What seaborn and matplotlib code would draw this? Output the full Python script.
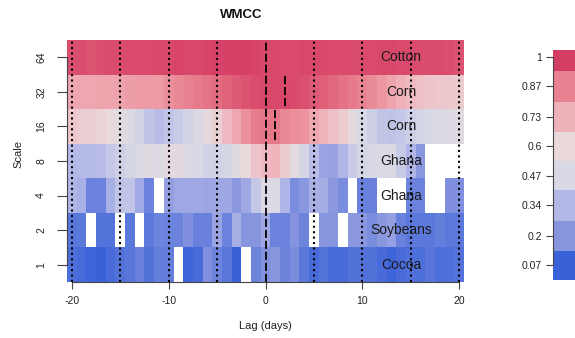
import numpy as np
import pandas as pd
import matplotlib
matplotlib.use("Agg")
import matplotlib.pyplot as plt
import seaborn as sns
from matplotlib.colors import LinearSegmentedColormap, ListedColormap, BoundaryNorm

sns.set_theme(style="white")
plt.rcParams["font.family"] = ["Liberation Sans", "DejaVu Sans"]

nan = np.nan

# lags in days, wavelet scales (top to bottom) and the pair leading at each scale
lags = list(range(-20, 21))
scales = [64, 32, 16, 8, 4, 2, 1]
leaders = ["Cotton", "Corn", "Corn", "Ghana", "Ghana", "Soybeans", "Cocoa"]

# wavelet multiple cross-correlation, one list per scale (lags -20 ... 20)
wmcc_64 = [0.965, 0.965, 0.96, 0.965, 0.97, 0.97, 0.975, 0.975, 0.975, 0.98,
           0.98, 0.985, 0.98, 0.98, 0.985, 0.99, 0.99, 0.995, 0.99, 0.985,
           0.98, 0.98, 0.975, 0.975, 0.98, 0.98, 0.98, 0.975, 0.975, 0.97,
           0.975, 0.975, 0.98, 0.98, 0.975, 0.975, 0.97, 0.97, 0.97, 0.965, 0.96]
wmcc_32 = [0.765, 0.76, 0.765, 0.77, 0.77, 0.775, 0.79, 0.795, 0.795, 0.80,
           0.83, 0.853, 0.87, 0.885, 0.897, 0.912, 0.927, 0.943, 0.958, 0.97,
           0.977, 0.978, 0.978, 0.975, 0.966, 0.946, 0.935, 0.92, 0.90, 0.885,
           0.864, 0.84, 0.81, 0.77, 0.735, 0.705, 0.683, 0.67, 0.657, 0.657, 0.647]
wmcc_16 = [0.657, 0.64, 0.63, 0.62, 0.585, 0.53, 0.50, 0.443, 0.388, 0.36,
           0.388, 0.415, 0.45, 0.50, 0.57, 0.63, 0.70, 0.76, 0.83, 0.88,
           0.89, 0.89, 0.853, 0.835, 0.818, 0.765, 0.723, 0.683, 0.647, 0.557,
           0.47, 0.43, 0.395, 0.385, 0.40, 0.43, 0.456, 0.47, 0.50, 0.50, 0.53]
wmcc_8 = [0.347, 0.354, 0.354, 0.36, 0.40, 0.43, 0.456, 0.50, 0.53, 0.50,
          0.54, 0.54, 0.50, 0.47, 0.443, 0.443, 0.463, 0.53, 0.60, 0.67,
          0.71, 0.72, 0.647, 0.557, 0.456, 0.36, 0.262, 0.255, 0.333, 0.415,
          0.456, 0.47, 0.50, 0.47, 0.415, 0.333, 0.21, nan, nan, nan, nan]
wmcc_4 = [0.333, 0.31, 0.154, 0.154, 0.307, 0.388, 0.388, 0.288, 0.154, nan,
          0.24, 0.28, 0.28, 0.285, 0.27, 0.28, 0.275, 0.213, 0.28, 0.40,
          0.50, 0.49, 0.333, 0.18, 0.21, 0.307, 0.30, 0.213, 0.178, nan,
          0.15, 0.15, nan, nan, nan, 0.154, 0.154, nan, nan, 0.19, 0.19]
wmcc_2 = [0.124, 0.127, nan, 0.114, 0.114, nan, 0.127, nan, 0.13, 0.16,
          0.154, 0.154, 0.19, 0.15, 0.15, 0.262, 0.154, 0.307, 0.203, 0.203,
          0.28, 0.154, 0.154, 0.197, 0.16, nan, 0.203, 0.203, nan, 0.213,
          0.213, 0.178, 0.21, 0.245, 0.15, 0.127, 0.127, 0.127, 0.144, 0.127, 0.127]
wmcc_1 = [0.104, 0.097, 0.077, 0.07, 0.097, 0.11, 0.124, 0.15, 0.11, 0.144,
          0.144, nan, 0.077, 0.097, 0.19, 0.16, 0.124, 0.07, nan, 0.16,
          0.195, 0.203, 0.16, 0.178, 0.127, 0.097, 0.117, 0.097, 0.097, 0.11,
          0.11, 0.11, 0.097, 0.077, 0.097, 0.107, 0.104, 0.124, 0.104, 0.107, 0.114]

# lag of the maximum correlation, marked where it differs from zero
peak_lag = {16: 1, 32: 2}

# colour key levels and their colours
key_levels = [0.07, 0.2, 0.34, 0.47, 0.6, 0.73, 0.87, 1.0]
key_colors = ["#3a62d8", "#8795df", "#b2b7e7", "#d8d9e5",
              "#ead9db", "#f0b2ba", "#e98290", "#d53e64"]

x_ticks = [-20, -10, 0, 10, 20]
guide_lags = [-20, -15, -10, -5, 5, 10, 15, 20]

df = pd.DataFrame([wmcc_64, wmcc_32, wmcc_16, wmcc_8, wmcc_4, wmcc_2, wmcc_1],
                  index=scales, columns=lags)

cmap = LinearSegmentedColormap.from_list(
    "wmcc", list(zip([0.0] + key_levels, ["#3058d4"] + key_colors)))

W, H = 575, 338
fig = plt.figure(figsize=(W / 100, H / 100), dpi=100)
ax = fig.add_axes([67 / W, 1 - 282 / H, 397 / W, 242 / H])

sns.heatmap(df, ax=ax, cmap=cmap, vmin=0, vmax=1, cbar=False,
            xticklabels=False, yticklabels=False)

def col(lag):
    return lags.index(lag) + 0.5

# guide lines
for g in guide_lags:
    ax.axvline(col(g), color="black", ls=(0, (1, 1.6)), lw=1.5)
ax.axvline(col(0), color="black", ls=(0, (4.5, 1.6)), lw=1.3)
for s, lag in peak_lag.items():
    r = scales.index(s)
    ax.plot([col(lag), col(lag)], [r + 0.03, r + 0.97], color="black",
            ls=(0, (4.5, 1.6)), lw=1.3)

# leading variable per scale
for r, name in enumerate(leaders):
    ax.text(col(14), r + 0.5, name, ha="center", va="center",
            fontsize=10, color="#1a1a1a")

# axes in base-graphics style
ax.set_xticks([col(t) for t in x_ticks])
ax.set_xticklabels([str(t) for t in x_ticks])
ax.set_yticks([r + 0.5 for r in range(len(scales))])
ax.set_yticklabels([str(s) for s in scales], rotation=90, va="center")
ax.tick_params(axis="x", bottom=True, length=5, width=0.8, color="#444444",
               labelsize=7.5, labelcolor="#222222", pad=5)
ax.tick_params(axis="y", left=True, length=7, width=0.8, color="#444444",
               labelsize=7.5, labelcolor="#222222", pad=8)
for side in ("bottom", "left"):
    ax.spines[side].set_visible(True)
    ax.spines[side].set_color("#444444")
    ax.spines[side].set_linewidth(0.8)
ax.spines["bottom"].set_bounds(col(-20), col(20))
ax.spines["left"].set_bounds(0.5, len(scales) - 0.5)
for side in ("top", "right"):
    ax.spines[side].set_visible(False)

ax.set_xlabel("Lag (days)", fontsize=8, color="#222222")
ax.xaxis.label.set_va("center")
ax.xaxis.set_label_coords(0.5, -0.182)
ax.set_ylabel("Scale", fontsize=8, color="#222222")
ax.yaxis.label.set_va("center")
ax.yaxis.set_label_coords(-0.123, 0.53)

fig.text(241 / W, 1 - 15 / H, "WMCC", ha="center", va="center",
         fontsize=9.5, fontweight="bold", color="#111111")

# colour key
cax = fig.add_axes([553 / W, 1 - 280 / H, 40 / W, 230 / H])
mids = [(a + b) / 2 for a, b in zip(key_levels[:-1], key_levels[1:])]
edges = [0.005] + mids + [1.03]
cax.pcolormesh([0, 1], edges, np.array(key_levels).reshape(-1, 1),
               cmap=ListedColormap(key_colors),
               norm=BoundaryNorm(edges, len(key_colors)))
cax.set_xlim(0, 1)
cax.set_ylim(edges[0], edges[-1])
cax.set_xticks([])
cax.set_yticks(key_levels)
cax.set_yticklabels(["1" if v == 1 else f"{v:g}" for v in key_levels])
cax.tick_params(axis="y", left=True, length=5, width=0.8, color="#444444",
                labelsize=7.5, labelcolor="#222222", pad=3)
for side in ("top", "right", "bottom"):
    cax.spines[side].set_visible(False)
cax.spines["left"].set_visible(True)
cax.spines["left"].set_color("#444444")
cax.spines["left"].set_linewidth(0.8)
cax.spines["left"].set_bounds(key_levels[0], key_levels[-1])

fig.savefig("out.png", dpi=100)
